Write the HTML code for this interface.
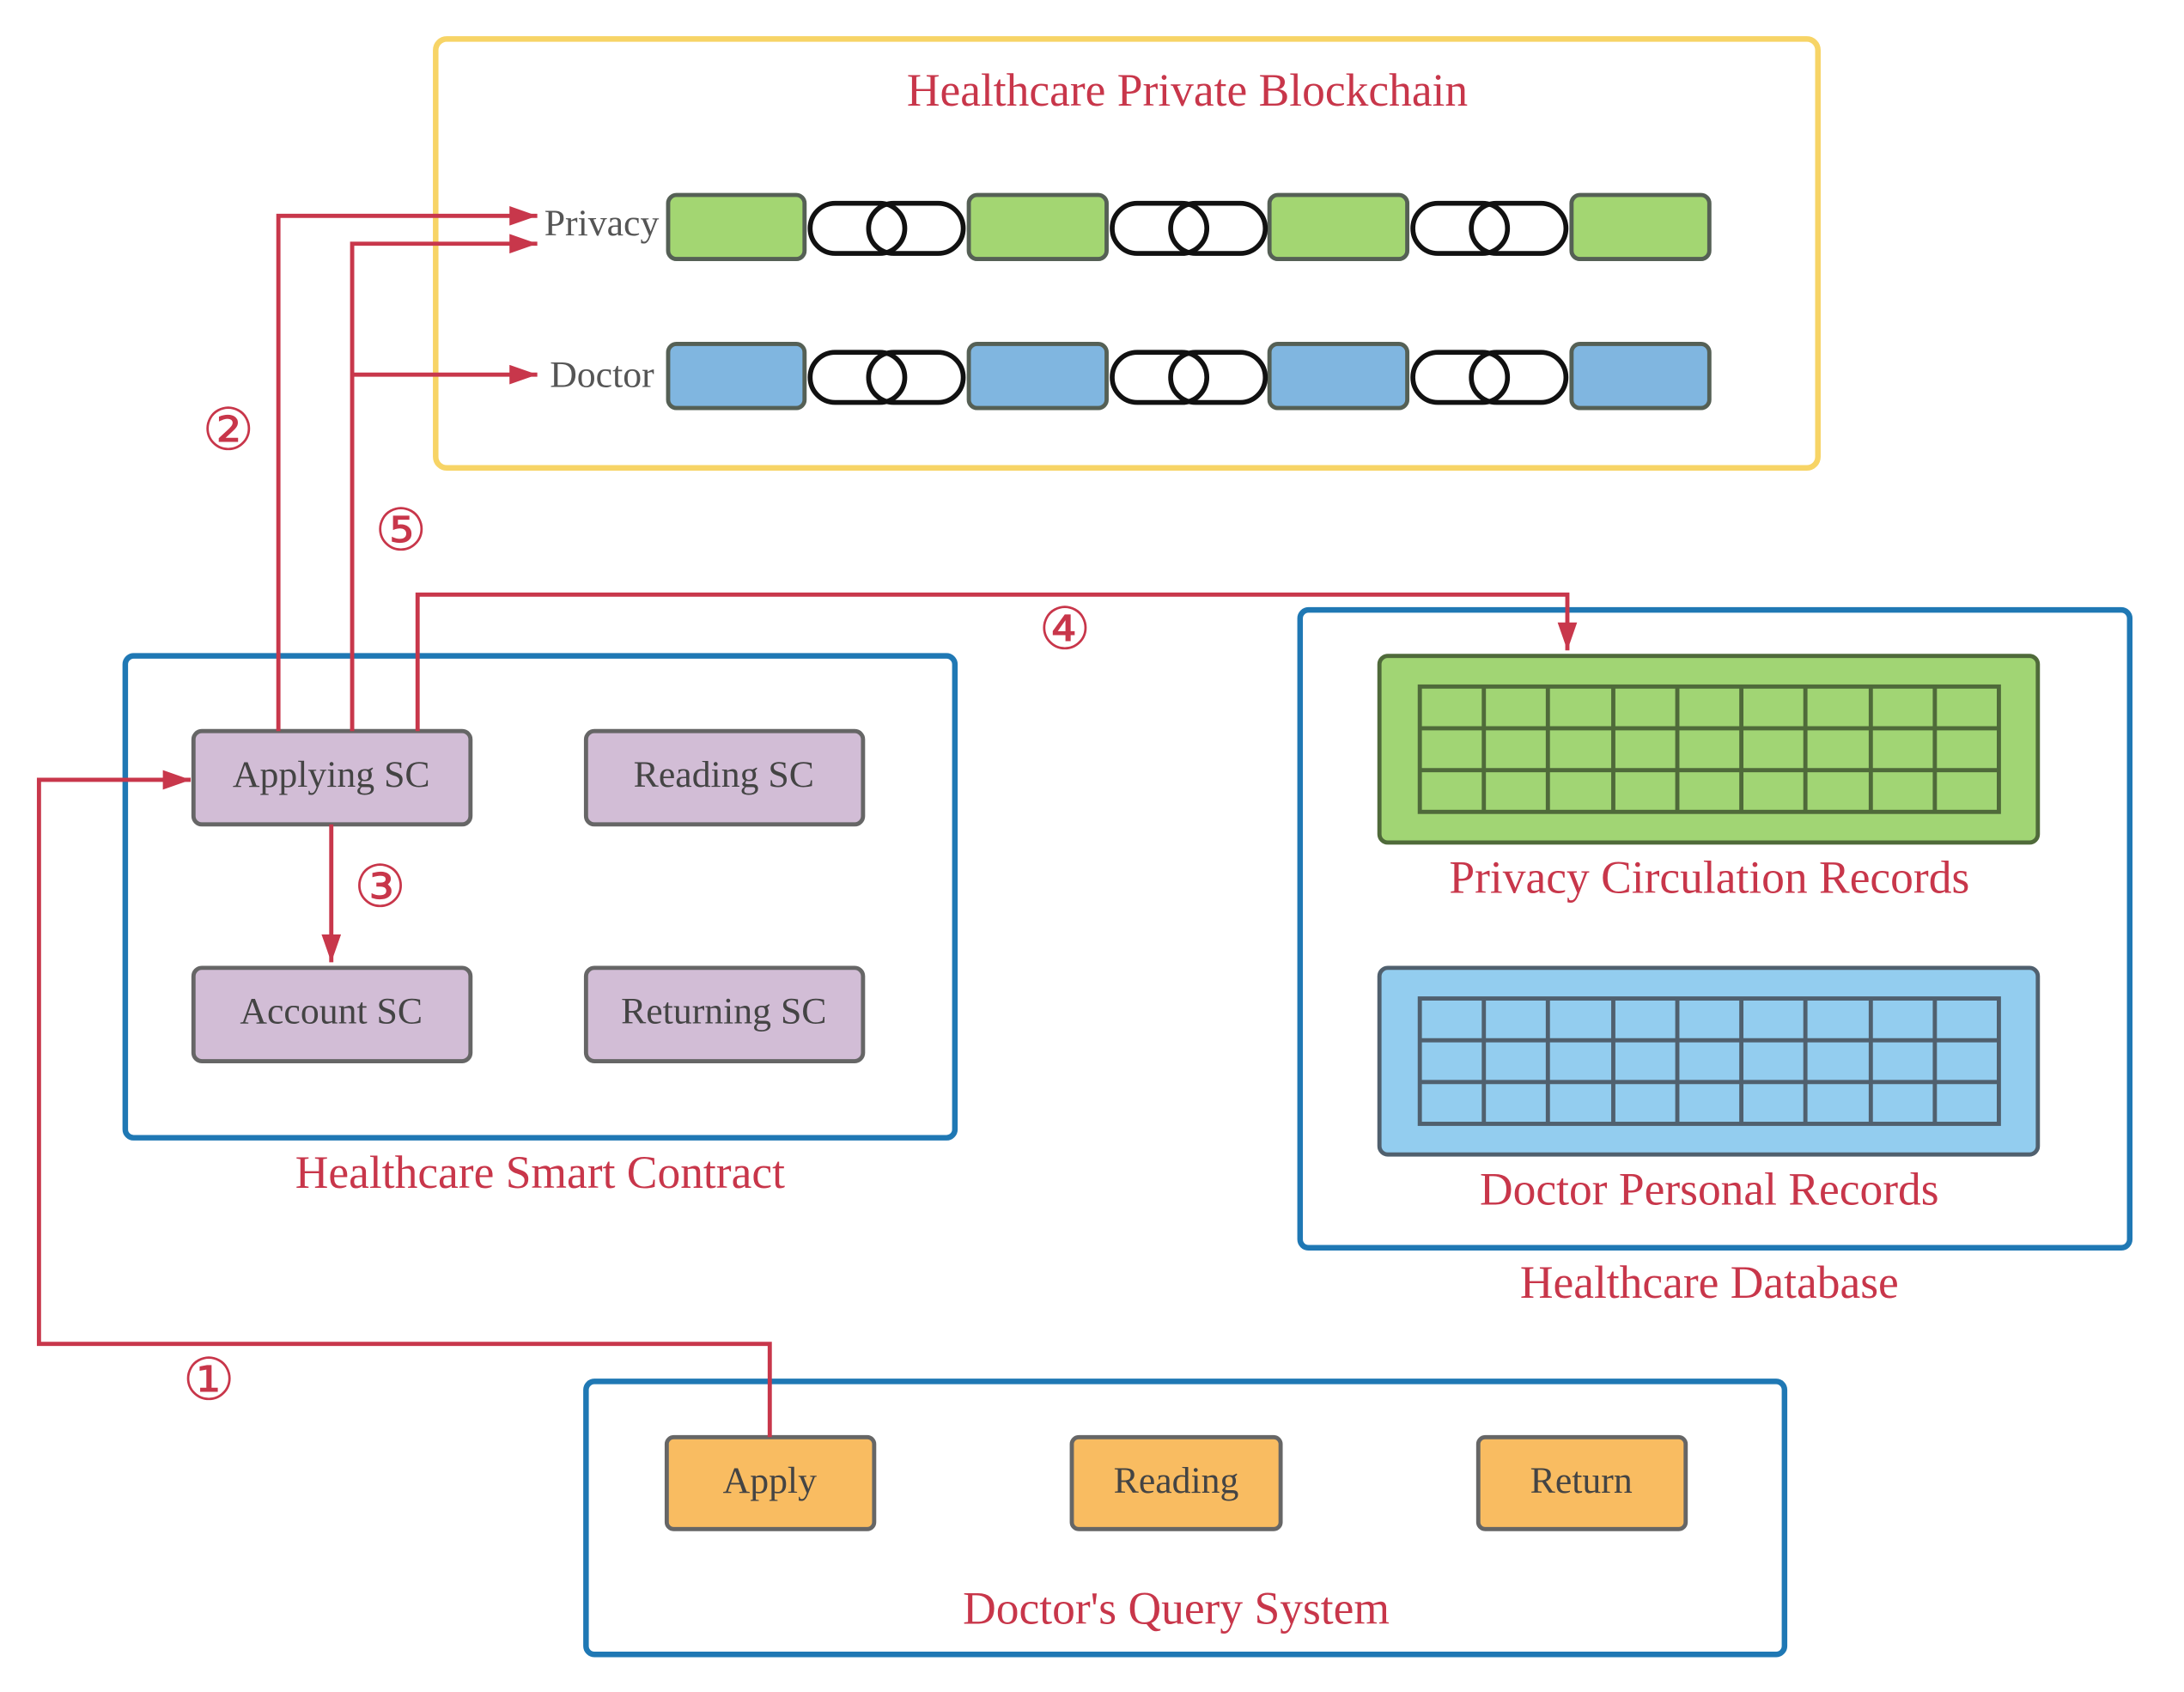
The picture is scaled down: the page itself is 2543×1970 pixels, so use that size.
<!DOCTYPE html>
<html><head><meta charset="utf-8"><style>
html,body{margin:0;padding:0;background:#fff;width:2543px;height:1970px;overflow:hidden}
svg{display:block}
text{font-family:"Liberation Serif",serif}
.t{fill:#c8364a;font-size:33px;text-anchor:middle}
.b{fill:#444;font-size:27px;text-anchor:middle}
.n{fill:#c8364a;font-size:42px;text-anchor:middle;font-family:"DejaVu Sans",sans-serif}
.r{stroke:#c8374b;stroke-width:3;fill:none}
.lk{fill:none;stroke:#111;stroke-width:3.5}
.g{stroke:#4f6a3a;stroke-width:3}
.gb{stroke:#50606e;stroke-width:3}
</style></head><body>
<svg width="2543" height="1970" viewBox="0 0 1569 1215" preserveAspectRatio="none" xmlns="http://www.w3.org/2000/svg">
<defs>
<marker id="ar" viewBox="0 0 20 14" refX="20" refY="7" markerWidth="24" markerHeight="14" markerUnits="userSpaceOnUse" orient="auto"><path d="M0,0 L20,7 L0,14 z" fill="#c8374b"/></marker>
</defs>
<rect x="313" y="28" width="993" height="308" rx="8" fill="none" stroke="#f7d466" stroke-width="4"/>
<text class="t" x="853" y="76">Healthcare Private Blockchain</text>
<text x="391" y="169" font-size="27" fill="#555">Privacy</text>
<text x="395" y="278" font-size="27" fill="#555">Doctor</text>
<g stroke="#556055" stroke-width="3">
<rect x="480" y="140" width="98" height="46" rx="6" fill="#a3d672"/>
<rect x="696" y="140" width="99" height="46" rx="6" fill="#a3d672"/>
<rect x="912" y="140" width="99" height="46" rx="6" fill="#a3d672"/>
<rect x="1129" y="140" width="99" height="46" rx="6" fill="#a3d672"/>
<rect x="480" y="247" width="98" height="46" rx="6" fill="#80b6e0"/>
<rect x="696" y="247" width="99" height="46" rx="6" fill="#80b6e0"/>
<rect x="912" y="247" width="99" height="46" rx="6" fill="#80b6e0"/>
<rect x="1129" y="247" width="99" height="46" rx="6" fill="#80b6e0"/>
</g>
<g class="lk">
<rect x="582" y="146" width="68" height="36" rx="18"/><rect x="624" y="146" width="68" height="36" rx="18"/>
<rect x="799" y="146" width="68" height="36" rx="18"/><rect x="841" y="146" width="68" height="36" rx="18"/>
<rect x="1015" y="146" width="68" height="36" rx="18"/><rect x="1057" y="146" width="68" height="36" rx="18"/>
<rect x="582" y="253" width="68" height="36" rx="18"/><rect x="624" y="253" width="68" height="36" rx="18"/>
<rect x="799" y="253" width="68" height="36" rx="18"/><rect x="841" y="253" width="68" height="36" rx="18"/>
<rect x="1015" y="253" width="68" height="36" rx="18"/><rect x="1057" y="253" width="68" height="36" rx="18"/>
</g>
<rect x="90" y="471" width="596" height="346" rx="6" fill="none" stroke="#1f78b4" stroke-width="4"/>
<g stroke="#666" stroke-width="3" fill="#d2bdd6">
<rect x="139" y="525" width="199" height="67" rx="6"/>
<rect x="421" y="525" width="199" height="67" rx="6"/>
<rect x="139" y="695" width="199" height="67" rx="6"/>
<rect x="421" y="695" width="199" height="67" rx="6"/>
</g>
<text class="b" x="238" y="565">Applying SC</text>
<text class="b" x="520" y="565">Reading SC</text>
<text class="b" x="238" y="735">Account SC</text>
<text class="b" x="520" y="735">Returning SC</text>
<text class="t" x="388" y="853">Healthcare Smart Contract</text>
<rect x="934" y="438" width="596" height="458" rx="6" fill="none" stroke="#1f78b4" stroke-width="4"/>
<rect x="991" y="471" width="473" height="134" rx="6" fill="#a1d574" stroke="#4f6a3a" stroke-width="3"/>
<rect x="1020" y="493" width="416" height="90" fill="none" class="g"/>
<g class="g">
<line x1="1066" y1="493" x2="1066" y2="583"/><line x1="1112" y1="493" x2="1112" y2="583"/><line x1="1159" y1="493" x2="1159" y2="583"/><line x1="1205" y1="493" x2="1205" y2="583"/><line x1="1251" y1="493" x2="1251" y2="583"/><line x1="1297" y1="493" x2="1297" y2="583"/><line x1="1344" y1="493" x2="1344" y2="583"/><line x1="1390" y1="493" x2="1390" y2="583"/>
<line x1="1020" y1="523" x2="1436" y2="523"/><line x1="1020" y1="553" x2="1436" y2="553"/>
</g>
<text class="t" x="1228" y="641">Privacy Circulation Records</text>
<rect x="991" y="695" width="473" height="134" rx="6" fill="#93cdef" stroke="#50606e" stroke-width="3"/>
<rect x="1020" y="717" width="416" height="90" fill="none" class="gb"/>
<g class="gb">
<line x1="1066" y1="717" x2="1066" y2="807"/><line x1="1112" y1="717" x2="1112" y2="807"/><line x1="1159" y1="717" x2="1159" y2="807"/><line x1="1205" y1="717" x2="1205" y2="807"/><line x1="1251" y1="717" x2="1251" y2="807"/><line x1="1297" y1="717" x2="1297" y2="807"/><line x1="1344" y1="717" x2="1344" y2="807"/><line x1="1390" y1="717" x2="1390" y2="807"/>
<line x1="1020" y1="747" x2="1436" y2="747"/><line x1="1020" y1="777" x2="1436" y2="777"/>
</g>
<text class="t" x="1228" y="865">Doctor Personal Records</text>
<text class="t" x="1228" y="932">Healthcare Database</text>
<rect x="421" y="992" width="861" height="196" rx="6" fill="none" stroke="#1f78b4" stroke-width="4"/>
<g stroke="#666" stroke-width="3" fill="#f9bc61">
<rect x="479" y="1032" width="149" height="66" rx="5"/>
<rect x="770" y="1032" width="150" height="66" rx="5"/>
<rect x="1062" y="1032" width="149" height="66" rx="5"/>
</g>
<text class="b" x="553" y="1072">Apply</text>
<text class="b" x="845" y="1072">Reading</text>
<text class="b" x="1136" y="1072">Return</text>
<text class="t" x="845" y="1166">Doctor's Query System</text>
<path class="r" d="M553,1032 V965 H28 V560 H137" marker-end="url(#ar)"/>
<path class="r" d="M200,525 V155 H386" marker-end="url(#ar)"/>
<path class="r" d="M253,525 V175 H386" marker-end="url(#ar)"/>
<path class="r" d="M253,269 H386" marker-end="url(#ar)"/>
<path class="r" d="M300,525 V427 H1126 V467" marker-end="url(#ar)"/>
<path class="r" d="M238,592 V691" marker-end="url(#ar)"/>
<text class="n" x="150" y="1005">①</text>
<text class="n" x="164" y="323">②</text>
<text class="n" x="273" y="651">③</text>
<text class="n" x="765" y="466">④</text>
<text class="n" x="288" y="395">⑤</text>
</svg>
</body></html>
